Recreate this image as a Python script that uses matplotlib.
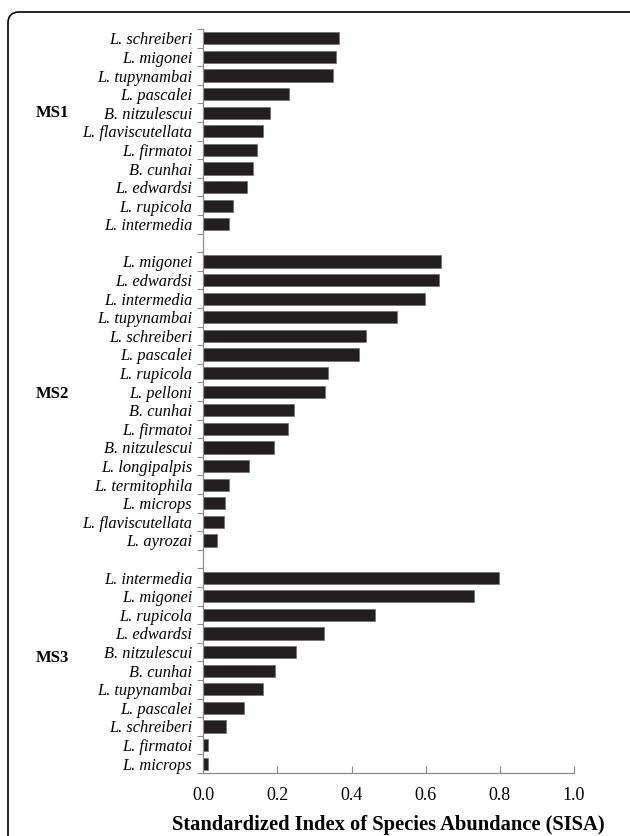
import numpy as np
import matplotlib
matplotlib.use("Agg")
import matplotlib.pyplot as plt
from matplotlib.patches import FancyBboxPatch
from matplotlib.transforms import blended_transform_factory

plt.rcParams['font.family'] = ['Liberation Serif', 'DejaVu Serif']

# species and SISA values, top to bottom within each group
ms1_species = ["L. schreiberi", "L. migonei", "L. tupynambai", "L. pascalei", "B. nitzulescui",
               "L. flaviscutellata", "L. firmatoi", "B. cunhai", "L. edwardsi", "L. rupicola",
               "L. intermedia"]
ms1_values = [0.365, 0.357, 0.349, 0.230, 0.181, 0.160, 0.144, 0.135, 0.119, 0.079, 0.070]

ms2_species = ["L. migonei", "L. edwardsi", "L. intermedia", "L. tupynambai", "L. schreiberi",
               "L. pascalei", "L. rupicola", "L. pelloni", "B. cunhai", "L. firmatoi",
               "B. nitzulescui", "L. longipalpis", "L. termitophila", "L. microps",
               "L. flaviscutellata", "L. ayrozai"]
ms2_values = [0.640, 0.636, 0.597, 0.523, 0.438, 0.419, 0.336, 0.327, 0.245, 0.229,
              0.190, 0.122, 0.070, 0.058, 0.055, 0.036]

ms3_species = ["L. intermedia", "L. migonei", "L. rupicola", "L. edwardsi", "B. nitzulescui",
               "B. cunhai", "L. tupynambai", "L. pascalei", "L. schreiberi", "L. firmatoi",
               "L. microps"]
ms3_values = [0.798, 0.729, 0.464, 0.325, 0.249, 0.193, 0.160, 0.110, 0.062, 0.013, 0.013]

groups = ["MS1", "MS2", "MS3"]
x_ticks = [0.0, 0.2, 0.4, 0.6, 0.8, 1.0]

# slot positions, one empty slot between groups
pos1 = np.arange(len(ms1_values))
pos2 = np.arange(len(ms2_values)) + pos1[-1] + 2
pos3 = np.arange(len(ms3_values)) + pos2[-1] + 2
positions = np.concatenate([pos1, pos2, pos3])
values = ms1_values + ms2_values + ms3_values
labels = ms1_species + ms2_species + ms3_species
n_slots = pos3[-1] + 1

fig = plt.figure(figsize=(6.3, 8.36), dpi=100)
ax = fig.add_axes([0.3227, 0.0754, 0.5885, 0.8899])

ax.barh(positions, values, height=0.66, color='#231f20', edgecolor='#6e6e6e', linewidth=0.5)

ax.set_xlim(0, 1.0)
ax.set_ylim(n_slots - 0.5, -0.5)
ax.set_xticks(x_ticks)
ax.set_xticklabels([f"{t:.1f}" for t in x_ticks], fontsize=13)
ax.set_yticks(positions)
ax.set_yticklabels(labels, fontsize=11.8, style='italic')
ax.set_yticks(np.arange(n_slots + 1) - 0.5, minor=True)

ax.tick_params(axis='y', which='major', length=0, pad=8)
ax.tick_params(axis='y', which='minor', length=4, direction='out', color='#8c8c8c', width=0.8)
ax.tick_params(axis='x', which='major', length=5, direction='in', color='#8c8c8c', width=0.8, pad=10)

for side in ['top', 'right']:
    ax.spines[side].set_visible(False)
for side in ['left', 'bottom']:
    ax.spines[side].set_color('#8c8c8c')
    ax.spines[side].set_linewidth(0.9)

ax.set_xlabel("Standardized Index of Species Abundance (SISA)", fontsize=14.8,
              fontweight='bold', labelpad=8)

# group labels
group_rows = [pos1[4], pos2[7] + 0.1, pos3[4] + 0.3]
trans = blended_transform_factory(fig.transFigure, ax.transData)
for name, row in zip(groups, group_rows):
    ax.text(52 / 630, row, name, transform=trans,
            ha='center', va='center', fontsize=12, fontweight='bold')

# rounded frame around the figure (cut at right and bottom)
frame = FancyBboxPatch((0.08, -0.3), 6.6, 8.24 + 0.3,
                       boxstyle="round,pad=0,rounding_size=0.11",
                       transform=fig.dpi_scale_trans, fill=False,
                       edgecolor='black', linewidth=1.2, clip_on=False)
fig.patches.append(frame)

fig.savefig("out.png", dpi=100)
